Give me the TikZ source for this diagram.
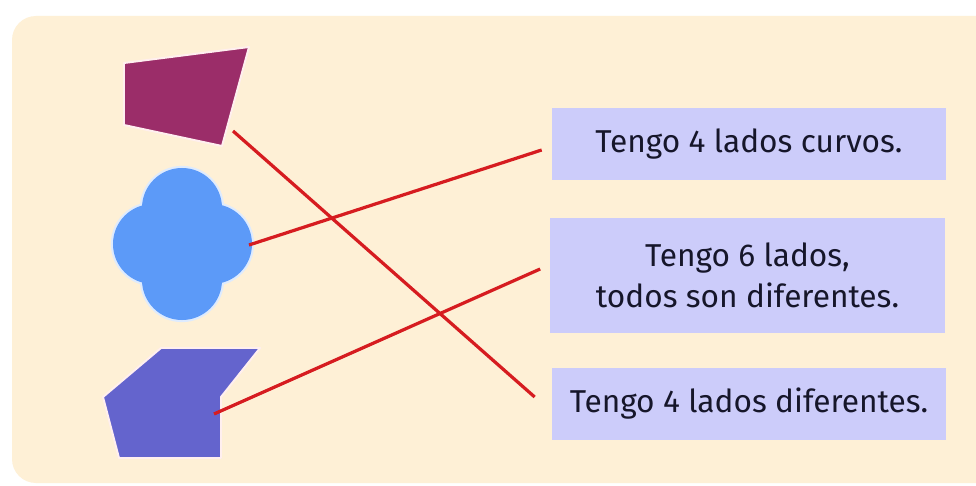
\documentclass[tikz,border=0pt]{standalone}
\usepackage{fontspec}
\setmainfont{Fira Sans}
\usetikzlibrary{calc}

\definecolor{panelbg}{RGB}{254,240,214}
\definecolor{quadpurple}{RGB}{155,45,105}
\definecolor{cloudblue}{RGB}{92,154,248}
\definecolor{hexviolet}{RGB}{100,100,205}
\definecolor{cardlav}{RGB}{204,204,250}
\definecolor{cardtext}{RGB}{22,22,42}
\definecolor{linkred}{RGB}{214,28,32}

\begin{document}
\begin{tikzpicture}[x=0.025cm, y=-0.025cm,
    card/.style={fill=cardlav, text=cardtext, minimum width=9.85cm, minimum height=1.8cm, inner sep=0pt, align=center, font=\fontsize{22.5}{29}\selectfont},
    link/.style={linkred, line width=2.3pt},
    shapeedge/.style={draw=white!75!pink, line width=1.4pt, line join=round}]
    \clip (0,0) rectangle (976,486);
    \fill[white] (0,0) rectangle (976,486);
    \fill[panelbg, rounded corners=0.6cm] (12,16) rectangle (1010,483);

    % Cards
    \node[card] (c1) at (749,144) {Tengo 4 lados curvos.};
    \node[card, minimum height=2.875cm] (c2) at (747.5,275.5) {Tengo 6 lados,\\todos son diferentes.};
    \node[card] (c3) at (749,404) {Tengo 4 lados diferentes.};

    % Shape 1
    \filldraw[shapeedge, fill=quadpurple] (124,63) -- (249,47) -- (222,146) -- (124,125) -- cycle;

    % Shape 2
    \draw[shapeedge, line width=3pt, draw=white!80!cloudblue] (182,208) circle[radius=1cm] (153,244) circle[radius=1cm]
        (212,244) circle[radius=1cm] (182,280) circle[radius=1cm];
    \fill[cloudblue] (182,208) circle[radius=1cm] (153,244) circle[radius=1cm]
        (212,244) circle[radius=1cm] (182,280) circle[radius=1cm];

    % Shape 3
    \filldraw[shapeedge, fill=hexviolet] (161,348) -- (260,348) -- (221,397) -- (221,458) -- (119,458) -- (103,397) -- cycle;

    % Link ends
    \coordinate (q) at (233,131);
    \coordinate (cl) at (249,245);
    \coordinate (hx) at (214,414);
    \coordinate (e1) at ($(c1.west)+(-10,6)$);
    \coordinate (e2) at ($(c2.west)+(-10,-6.5)$);
    \coordinate (e3) at ($(c3.west)+(-17,-7)$);

    % Links
    \draw[link] (q) -- (e3);
    \draw[link] (cl) -- (e1);
    \draw[link] (hx) -- (e2);
\end{tikzpicture}
\end{document}
